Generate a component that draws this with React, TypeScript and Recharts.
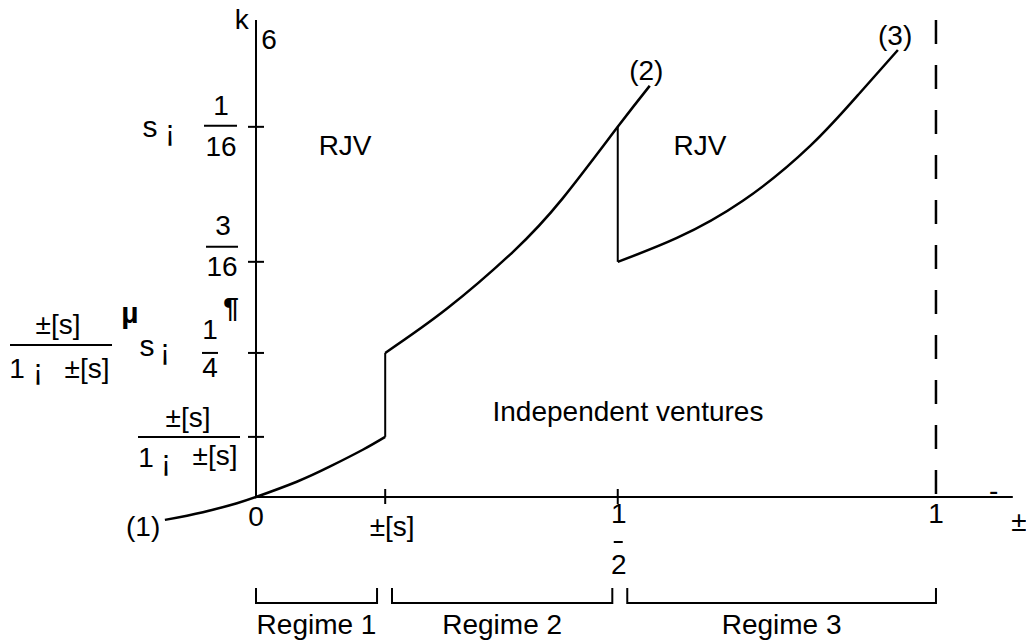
import { ComposedChart, XAxis, YAxis, Line, Scatter, ReferenceLine } from "recharts";

// schematic units: origin at (0,0), x axis runs 0..1 (dashed line at 1), y axis top at 1
const X_DOMAIN: [number, number] = [-0.3765, 1.1324];
const Y_DOMAIN: [number, number] = [-0.3061, 1.0419];

const curveRegime1 = [
  { x: -0.134, y: -0.048 },
  { x: -0.078, y: -0.032 },
  { x: -0.028, y: -0.013 },
  { x: 0, y: 0 },
  { x: 0.06, y: 0.032 },
  { x: 0.109, y: 0.064 },
  { x: 0.157, y: 0.099 },
  { x: 0.19, y: 0.126 },
];
const curveRegime2 = [
  { x: 0.19, y: 0.302 },
  { x: 0.281, y: 0.395 },
  { x: 0.378, y: 0.514 },
  { x: 0.451, y: 0.626 },
  { x: 0.532, y: 0.776 },
  { x: 0.579, y: 0.862 },
];
const curveRegime3 = [
  { x: 0.532, y: 0.493 },
  { x: 0.619, y: 0.543 },
  { x: 0.716, y: 0.621 },
  { x: 0.815, y: 0.736 },
  { x: 0.888, y: 0.847 },
  { x: 0.944, y: 0.937 },
];
const jump1 = [
  { x: 0.19, y: 0.126 },
  { x: 0.19, y: 0.302 },
];
const jump2 = [
  { x: 0.532, y: 0.776 },
  { x: 0.532, y: 0.493 },
];

const xTicks = [
  { x: 0, id: "zero" },
  { x: 0.19, id: "delta" },
  { x: 0.532, id: "half" },
  { x: 1, id: "one" },
];
const yTicks = [
  { y: 0.126, id: "ratio" },
  { y: 0.302, id: "ratioQuarter" },
  { y: 0.493, id: "threeSixteenths" },
  { y: 0.776, id: "sSixteenth" },
];

const regimes = [
  { name: "Regime 1", from: 0, to: 0.178 },
  { name: "Regime 2", from: 0.2, to: 0.524 },
  { name: "Regime 3", from: 0.546, to: 1 },
];

const regionLabels = [
  { x: 0.131, y: 0.736, text: "RJV" },
  { x: 0.653, y: 0.736, text: "RJV" },
  { x: 0.547, y: 0.18, text: "Independent ventures" },
];
const curveLabels = [
  { x: -0.166, y: -0.062, text: "(1)" },
  { x: 0.574, y: 0.895, text: "(2)" },
  { x: 0.94, y: 0.968, text: "(3)" },
];
const axisGlyphs = [
  { x: -0.021, y: 1.002, text: "k" },
  { x: 0.019, y: 0.96, text: "6" },
  { x: 1.085, y: 0.013, text: "-" },
  { x: 1.122, y: -0.052, text: "±" },
];

const FONT = "'Liberation Sans', Arial, sans-serif";
const BR_TOP = -0.191;
const BR_BOT = -0.222;
const REGIME_LABEL_Y = -0.268;

const T = (x: number, y: number, s: string, size = 28, weight = "normal") => (
  <text
    key={`${s}-${x}-${y}`}
    x={x}
    y={y}
    textAnchor="middle"
    dominantBaseline="central"
    fontSize={size}
    fontWeight={weight}
    fontFamily={FONT}
    fill="#000"
  >
    {s}
  </text>
);
const Bar = (x1: number, x2: number, y: number) => (
  <line key={`bar-${x1}-${y}`} x1={x1} x2={x2} y1={y} y2={y} stroke="#000" strokeWidth={2} />
);

const TextShape = (props: any) => {
  const { cx, cy, payload } = props;
  return T(cx, cy, payload.text);
};

const YTickLabel = (props: any) => {
  const { cx, cy, payload } = props;
  const p = (dx: number, dy: number, s: string, size = 28, weight = "normal") =>
    T(cx + dx, cy + dy, s, size, weight);
  switch (payload.id) {
    case "ratio":
      return (
        <g>
          {p(-68, -19, "±[s]")}
          {Bar(cx - 118, cx - 16, cy)}
          {p(-110, 21, "1")}
          {p(-90, 24, "¡", 30)}
          {p(-41, 19, "±[s]")}
        </g>
      );
    case "ratioQuarter":
      return (
        <g>
          {p(-198, -28, "±[s]")}
          {Bar(cx - 246, cx - 144, cy - 8)}
          {p(-239, 16, "1")}
          {p(-218, 17, "¡", 30)}
          {p(-169, 16, "±[s]")}
          {p(-126, -40, "µ", 30, "bold")}
          {p(-109, -7, "s", 30)}
          {p(-91, -3, "¡", 30)}
          {p(-46, -23, "1")}
          {Bar(cx - 54, cx - 38, cy)}
          {p(-46, 15, "4")}
          {p(-25, -45, "¶", 28, "bold")}
        </g>
      );
    case "threeSixteenths":
      return (
        <g>
          {p(-33, -36, "3")}
          {Bar(cx - 50, cx - 18, cy - 15)}
          {p(-34, 5, "16")}
        </g>
      );
    default:
      return (
        <g>
          {p(-106, 0, "s", 30)}
          {p(-86, 4, "¡", 30)}
          {p(-35, -21, "1")}
          {Bar(cx - 52, cx - 19, cy - 1)}
          {p(-35, 20, "16")}
        </g>
      );
  }
};

const XTickLabel = (props: any) => {
  const { cx, cy, payload } = props;
  switch (payload.id) {
    case "zero":
      return T(cx, cy + 20, "0");
    case "delta":
      return T(cx + 7, cy + 30, "±[s]");
    case "half":
      return (
        <g>
          {T(cx + 1, cy + 17, "1")}
          {Bar(cx - 4, cx + 5, cy + 45)}
          {T(cx + 1, cy + 68, "2")}
        </g>
      );
    default:
      return T(cx, cy + 17, "1");
  }
};

const lineProps = {
  dataKey: "y",
  stroke: "#000",
  dot: false,
  activeDot: false,
  isAnimationActive: false,
  legendType: "none" as const,
};

export default function App() {
  const brackets = regimes.map((r) => [
    { x: r.from, y: BR_TOP },
    { x: r.from, y: BR_BOT },
    { x: r.to, y: BR_BOT },
    { x: r.to, y: BR_TOP },
  ]);
  const regimeLabels = regimes.map((r) => ({ x: (r.from + r.to) / 2, y: REGIME_LABEL_Y, text: r.name }));

  return (
    <div style={{ position: "absolute", left: 0, top: 0, background: "#fff" }}>
      <ComposedChart width={1026} height={643} margin={{ top: 0, right: 0, bottom: 0, left: 0 }}>
        <XAxis type="number" dataKey="x" domain={X_DOMAIN} allowDataOverflow hide />
        <YAxis type="number" dataKey="y" domain={Y_DOMAIN} allowDataOverflow hide />

        {/* axes */}
        <ReferenceLine segment={[{ x: 0, y: 0 }, { x: 0, y: 1 }]} stroke="#000" strokeWidth={2} />
        <ReferenceLine segment={[{ x: 0, y: 0 }, { x: 1.113, y: 0 }]} stroke="#000" strokeWidth={2} />
        <ReferenceLine
          segment={[{ x: 1, y: 1 }, { x: 1, y: 0 }]}
          stroke="#000"
          strokeWidth={2.5}
          strokeDasharray="24 21"
        />
        {yTicks.map((t) => (
          <ReferenceLine
            key={t.id}
            segment={[{ x: -0.0118, y: t.y }, { x: 0.0118, y: t.y }]}
            stroke="#000"
            strokeWidth={2}
          />
        ))}
        {xTicks
          .filter((t) => t.x > 0 && t.x < 1)
          .map((t) => (
            <ReferenceLine
              key={t.id}
              segment={[{ x: t.x, y: 0.0168 }, { x: t.x, y: -0.0147 }]}
              stroke="#000"
              strokeWidth={2}
            />
          ))}

        {/* boundary curves */}
        <Line {...lineProps} data={curveRegime1} type="natural" strokeWidth={2.5} />
        <Line {...lineProps} data={jump1} type="linear" strokeWidth={2} />
        <Line {...lineProps} data={curveRegime2} type="natural" strokeWidth={2.5} />
        <Line {...lineProps} data={jump2} type="linear" strokeWidth={2} />
        <Line {...lineProps} data={curveRegime3} type="natural" strokeWidth={2.5} />

        {/* regime brackets */}
        {brackets.map((b, i) => (
          <Line key={i} {...lineProps} data={b} type="linear" strokeWidth={2} />
        ))}

        {/* text */}
        <Scatter data={yTicks.map((t) => ({ x: 0, y: t.y, id: t.id }))} dataKey="y" shape={YTickLabel} isAnimationActive={false} />
        <Scatter data={xTicks.map((t) => ({ x: t.x, y: 0, id: t.id }))} dataKey="y" shape={XTickLabel} isAnimationActive={false} />
        <Scatter data={regionLabels} dataKey="y" shape={TextShape} isAnimationActive={false} />
        <Scatter data={curveLabels} dataKey="y" shape={TextShape} isAnimationActive={false} />
        <Scatter data={axisGlyphs} dataKey="y" shape={TextShape} isAnimationActive={false} />
        <Scatter data={regimeLabels} dataKey="y" shape={TextShape} isAnimationActive={false} />
      </ComposedChart>
    </div>
  );
}
